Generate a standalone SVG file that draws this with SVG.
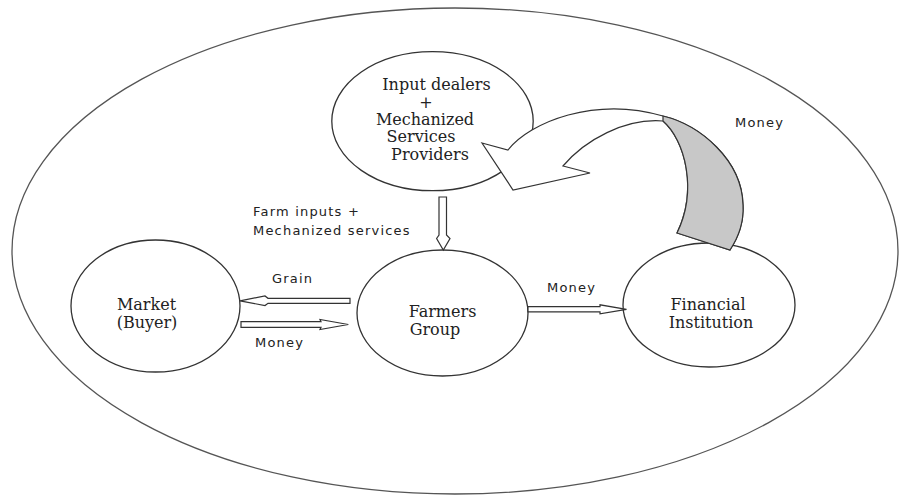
<svg xmlns="http://www.w3.org/2000/svg" width="905" height="495" viewBox="0 0 905 495">
  <style>
    .node { fill: #ffffff; stroke: #333333; stroke-width: 1.3; }
    .outer { fill: #ffffff; stroke: #555555; stroke-width: 1.3; }
    .ntext { font-family: "DejaVu Serif", "Liberation Serif", serif; font-size: 16px; fill: #222222; text-anchor: middle; }
    .ltext { font-family: "DejaVu Sans", "Liberation Sans", sans-serif; font-size: 13px; letter-spacing: 1.2px; fill: #222222; }
    .arrow { fill: #ffffff; stroke: #333333; stroke-width: 1.2; stroke-linejoin: miter; }
    .back { fill: #c8c8c8; stroke: #333333; stroke-width: 1.2; stroke-linejoin: miter; }
  </style>

  <g id="boundary">
    <ellipse class="outer" cx="455" cy="251" rx="443" ry="243"/>
  </g>

  <g id="input-dealers">
    <ellipse class="node" cx="432.5" cy="121.2" rx="100.7" ry="69.5"/>
    <text class="ntext" x="436.5" y="89.5">Input dealers</text>
    <text class="ntext" x="426" y="107.5">+</text>
    <text class="ntext" x="425" y="125">Mechanized</text>
    <text class="ntext" x="421" y="142.3">Services</text>
    <text class="ntext" x="430" y="159.5">Providers</text>
  </g>

  <g id="market">
    <ellipse class="node" cx="155.5" cy="306" rx="84.5" ry="66"/>
    <text class="ntext" x="146.5" y="309.5">Market</text>
    <text class="ntext" x="147" y="328">(Buyer)</text>
  </g>

  <g id="farmers-group">
    <ellipse class="node" cx="442.5" cy="313" rx="85.5" ry="63"/>
    <text class="ntext" x="442.5" y="317">Farmers</text>
    <text class="ntext" x="435" y="335">Group</text>
  </g>

  <g id="financial-institution">
    <ellipse class="node" cx="709" cy="305" rx="86" ry="62"/>
    <text class="ntext" x="708" y="310">Financial</text>
    <text class="ntext" x="711" y="328">Institution</text>
  </g>

  <g id="connectors">
    <!-- Input dealers -> Farmers Group -->
    <path class="arrow" d="M 439,197 L 446.5,197 L 446.5,235 L 450,238.5 L 443.3,250 L 436.6,238.5 L 439,235 Z"/>
    <!-- Farmers Group -> Market (Grain) -->
    <path class="arrow" d="M 350,298.3 L 268,298.3 L 265,296 L 240,300.8 L 265,305.6 L 268,303.3 L 350,303.3 Z"/>
    <!-- Market -> Farmers Group (Money) -->
    <path class="arrow" d="M 241,321.7 L 321,321.7 L 320,319.5 L 348.3,324.5 L 320,329.5 L 321,327.3 L 241,327.3 Z"/>
    <!-- Farmers Group -> Financial Institution (Money) -->
    <path class="arrow" d="M 528,306.7 L 600,306.7 L 600,304.8 L 626.5,309.3 L 600,313.8 L 600,311.8 L 528,311.8 Z"/>
    <!-- Financial Institution -> Input dealers (curved block arrow) -->
    <path class="arrow" d="M 482,143 L 508,150 C 530,122 595,96 663,116 C 700,125 742,160 743,205 C 744,222 738,238 730,250 L 677,233 C 698,190 685,140 663,121 C 625,118 585,140 563,166 L 590,173 L 513,190 Z"/>
    <path class="back" d="M 663,121 C 685,140 698,190 677,233 L 730,250 C 738,238 744,222 743,205 C 742,160 700,125 663,116 Z"/>
  </g>

  <g id="labels">
    <text class="ltext" x="253" y="216">Farm inputs +</text>
    <text class="ltext" x="253" y="235">Mechanized services</text>
    <text class="ltext" x="272" y="283.3">Grain</text>
    <text class="ltext" x="255" y="346.7">Money</text>
    <text class="ltext" x="547" y="291.7">Money</text>
    <text class="ltext" x="735" y="126.7">Money</text>
  </g>
</svg>
